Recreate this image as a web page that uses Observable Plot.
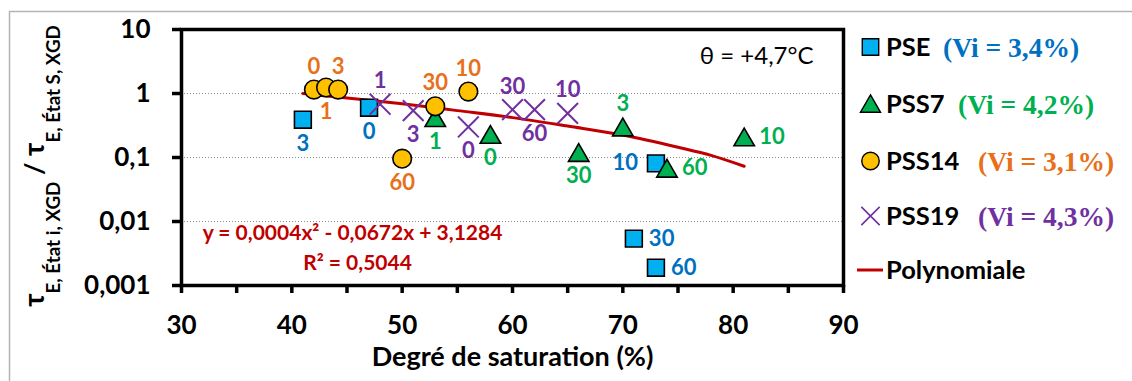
<!DOCTYPE html>
<html><head><meta charset="utf-8">
<script src="https://cdn.jsdelivr.net/npm/d3@7"></script>
<script src="https://cdn.jsdelivr.net/npm/@observablehq/plot@0.6"></script>
<style>
html,body{margin:0;padding:0;background:#fff;}
svg{display:block}
</style></head><body><div id="chart"></div>
<script>
// ---------- data ----------
const pseX = [41, 47, 73, 71, 73];
const pseY = [0.39, 0.60, 0.081, 0.0054, 0.0019];
const pseLabels = ["3", "0", "10", "30", "60"];
const psePos = ["below", "below", "left", "right", "right"];

const pss7X = [53, 58, 66, 70, 74, 81];
const pss7Y = [0.42, 0.23, 0.12, 0.30, 0.068, 0.21];
const pss7Labels = ["1", "0", "30", "3", "60", "10"];
const pss7Pos = ["below", "below", "below", "above", "right", "right"];

const pss14X = [42, 43.1, 44.2, 53, 56, 50];
const pss14Y = [1.15, 1.24, 1.15, 0.63, 1.07, 0.096];
const pss14Labels = ["0", "1", "3", "30", "10", "60"];
const pss14Pos = ["above", "below", "above", "above", "above", "below"];

const pss19X = [48, 51, 56, 60, 62, 65];
const pss19Y = [0.68, 0.54, 0.30, 0.56, 0.56, 0.49];
const pss19Labels = ["1", "3", "0", "30", "60", "10"];
const pss19Pos = ["above", "below", "below", "above", "below", "above"];

const trendX = [41, 45, 50, 55, 60, 65, 70, 75, 78, 81];
const trendY = [1.0, 0.85, 0.69, 0.54, 0.42, 0.31, 0.225, 0.145, 0.108, 0.073];

const xTicks = [30, 35, 40, 45, 50, 55, 60, 65, 70, 75, 80, 85, 90];
const yTicks = [0.001, 0.01, 0.1, 1, 10];
const gridLines = [0.01, 0.1, 1];

const seriesNames = ["PSE", "PSS7", "PSS14", "PSS19"];
const seriesVi = ["(Vi = 3,4%)", "(Vi = 4,2%)", "(Vi = 3,1%)", "(Vi = 4,3%)"];
const trendName = "Polynomiale";
const equationText = "y = 0,0004x² - 0,0672x + 3,1284";
const r2Text = "R² = 0,5044";
const tempText = "θ = +4,7°C";
const xTitle = "Degré de saturation (%)";

// ---------- styles ----------
const labelColor = {PSE: "#0070C0", PSS7: "#00B050", PSS14: "#E8701A", PSS19: "#7030A0"};
const FONT = "Lato, 'Open Sans', sans-serif";

const mk = (name, xs, ys, labs, pos) => xs.map((x, i) => ({series: name, x, y: ys[i], label: labs[i], pos: pos[i]}));
const pts = [
  ...mk("PSE", pseX, pseY, pseLabels, psePos),
  ...mk("PSS7", pss7X, pss7Y, pss7Labels, pss7Pos),
  ...mk("PSS14", pss14X, pss14Y, pss14Labels, pss14Pos),
  ...mk("PSS19", pss19X, pss19Y, pss19Labels, pss19Pos)
];
const trend = trendX.map((x, i) => ({x, y: trendY[i]}));
const ofSeries = s => pts.filter(d => d.series === s);

const posStyle = {
  above: {dx: 0, dy: -23, textAnchor: "middle"},
  below: {dx: 0, dy: 24, textAnchor: "middle"},
  right: {dx: 15, dy: 0, textAnchor: "start"},
  left: {dx: -18, dy: 0, textAnchor: "end"}
};

const W = 1132, H = 381;
const chart = Plot.plot({
  width: W, height: H,
  marginLeft: 181, marginRight: W - 843, marginTop: 29, marginBottom: H - 285,
  style: {fontFamily: FONT, background: "#fff", overflow: "visible"},
  x: {domain: [30, 90]},
  y: {type: "log", domain: [0.001, 10]},
  color: {type: "identity"},
  marks: [
    Plot.ruleY(gridLines, {stroke: "#8c8c8c", strokeWidth: 1, strokeDasharray: "1,2"}),
    Plot.line(trend, {x: "x", y: "y", stroke: "#C00000", strokeWidth: 3, curve: "monotone-x"}),
    Plot.frame({stroke: "#000", strokeWidth: 3.5}),
    Plot.axisX({ticks: xTicks, tickFormat: d => d % 10 === 0 ? String(d) : "", tickSize: 8, tickPadding: 22,
      strokeWidth: 3.5, fontSize: 26, fontWeight: "bold", label: null, fill: "#000"}),
    Plot.axisY({ticks: yTicks, tickFormat: d => String(d).replace(".", ","), tickSize: 9, tickPadding: 22,
      strokeWidth: 3.5, fontSize: 26, fontWeight: "bold", label: null, fill: "#000"}),
    Plot.dot(ofSeries("PSE"), {x: "x", y: "y", symbol: "square", r: 9.5, fill: "#00B0F0", stroke: "#000", strokeWidth: 1.6}),
    Plot.dot(ofSeries("PSS7"), {x: "x", y: "y", symbol: "triangle", r: 7.6, dy: 3, fill: "#00B050", stroke: "#000", strokeWidth: 1.6}),
    Plot.dot(ofSeries("PSS14"), {x: "x", y: "y", symbol: "circle", r: 9.3, fill: "#FFC000", stroke: "#000", strokeWidth: 1.6}),
    Plot.dot(ofSeries("PSS19"), {x: "x", y: "y", symbol: "times", r: 9.5, fill: "none", stroke: "#7030A0", strokeWidth: 2}),
    ...Object.entries(posStyle).map(([p, s]) => Plot.text(pts.filter(d => d.pos === p), {
      x: "x", y: "y", text: "label", fill: d => labelColor[d.series],
      dx: s.dx, dy: s.dy, textAnchor: s.textAnchor, lineAnchor: "middle",
      fontSize: 22, fontWeight: "bold"
    })),
    Plot.text([tempText], {frameAnchor: "top-right", text: d => d, dx: -30, dy: 27, lineAnchor: "middle",
      fontSize: 24, fill: "#000"}),
    Plot.text([equationText], {frameAnchor: "bottom-left", text: d => d, dx: 171, dy: -52, textAnchor: "middle",
      lineAnchor: "middle", fontSize: 21, fontWeight: "bold", fill: "#C00000"}),
    Plot.text([r2Text], {frameAnchor: "bottom-left", text: d => d, dx: 176, dy: -22, textAnchor: "middle",
      lineAnchor: "middle", fontSize: 21, fontWeight: "bold", fill: "#C00000"}),
    Plot.text([xTitle], {frameAnchor: "bottom", text: d => d, dy: 72, lineAnchor: "middle",
      fontSize: 27, fontWeight: "bold", fill: "#000"})
  ]
});

const svg = d3.select(chart);
// outer gray border (chart area frame)
svg.insert("path", ":first-child").attr("d", `M9.5,${H}V11.5H${W}`).attr("fill", "none").attr("stroke", "#b4b4b4").attr("stroke-width", 1.5);

// y axis title
const yl = svg.append("text").attr("transform", "translate(44,166) rotate(-90)")
  .attr("text-anchor", "middle").attr("font-family", FONT).attr("font-weight", "bold").attr("fill", "#000");
yl.append("tspan").attr("font-size", 28).text("τ");
yl.append("tspan").attr("font-size", 18.8).attr("dy", 16).text("E, État i, XGD");
yl.append("tspan").attr("font-size", 27).attr("dy", -16).text(" / ");
yl.append("tspan").attr("font-size", 28).text("τ");
yl.append("tspan").attr("font-size", 18.8).attr("dy", 16).text("E, État S, XGD");

// legend
const legY = [47, 104, 161, 216];
const viX = [943, 958, 978, 978];
const legSym = [
  {type: d3.symbolSquare, size: 270, fill: "#00B0F0", stroke: "#000", sw: 1.4},
  {type: d3.symbolTriangle, size: 175, fill: "#00B050", stroke: "#000", sw: 1.4, dy: 2.5},
  {type: d3.symbolCircle, size: 240, fill: "#FFC000", stroke: "#000", sw: 1.4},
  {type: d3.symbolTimes, size: 220, fill: "none", stroke: "#7030A0", sw: 1.6}
];
const lg = svg.append("g").attr("font-family", FONT).attr("text-anchor", "start");
seriesNames.forEach((name, i) => {
  const s = legSym[i];
  lg.append("path").attr("d", d3.symbol(s.type, s.size)())
    .attr("transform", `translate(870.5,${legY[i] + (s.dy || 0)})`)
    .attr("fill", s.fill).attr("stroke", s.stroke).attr("stroke-width", s.sw);
  lg.append("text").attr("x", 886).attr("y", legY[i]).attr("dy", "0.36em").attr("text-anchor", "start")
    .attr("font-size", 25.5).attr("font-weight", "bold").attr("fill", "#000").text(name);
  lg.append("text").attr("x", viX[i]).attr("y", legY[i]).attr("dy", "0.36em").attr("text-anchor", "start")
    .attr("font-family", "'Liberation Serif', 'Times New Roman', serif")
    .attr("font-size", 27.5).attr("font-weight", "bold").attr("fill", labelColor[name]).text(seriesVi[i]);
});
lg.append("line").attr("x1", 857).attr("x2", 883).attr("y1", 270).attr("y2", 270)
  .attr("stroke", "#C00000").attr("stroke-width", 3);
lg.append("text").attr("x", 886).attr("y", 270).attr("dy", "0.36em").attr("text-anchor", "start")
  .attr("font-size", 25.5).attr("font-weight", "bold").attr("fill", "#000").text(trendName);

document.getElementById("chart").appendChild(chart);
</script>
</body></html>
